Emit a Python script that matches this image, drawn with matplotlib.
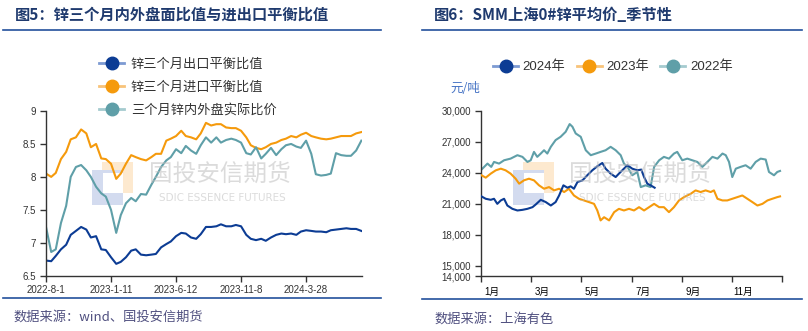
import matplotlib
matplotlib.use('Agg')
import matplotlib.pyplot as plt
from matplotlib.lines import Line2D
from matplotlib.patches import Rectangle

# ---------------- data: left chart (trading-day index) ----------------
left_day_idx = [0, 8, 15, 23, 31, 38, 46, 54, 62, 69, 77, 85, 92, 100, 108, 115,
                123, 131, 138, 146, 154, 162, 169, 177, 185, 192, 200, 208, 215, 223,
                231, 238, 246, 254, 262, 269, 277, 285, 292, 300, 308, 315, 323, 331,
                338, 346, 354, 362, 369, 377, 385, 392, 400, 408, 415, 423, 431, 438,
                446, 454, 462, 469, 477, 485]
left_tick_idx = [0, 100, 200, 300, 400]
left_tick_labels = ['2022-8-1', '2023-1-11', '2023-6-12', '2023-11-8', '2024-3-28']

export_ratio = [6.73, 6.72, 6.8, 6.9, 6.97, 7.12, 7.18, 7.24, 7.2, 7.08, 7.1, 6.9, 6.89,
                6.78, 6.68, 6.71, 6.78, 6.88, 6.9, 6.82, 6.81, 6.82, 6.83, 6.93, 6.98,
                7.02, 7.1, 7.15, 7.14, 7.08, 7.06, 7.13, 7.24, 7.24, 7.25, 7.28, 7.25,
                7.25, 7.27, 7.25, 7.12, 7.06, 7.04, 7.06, 7.03, 7.08, 7.12, 7.14, 7.13,
                7.14, 7.12, 7.17, 7.19, 7.18, 7.17, 7.17, 7.16, 7.19, 7.2, 7.21, 7.22,
                7.21, 7.21, 7.18]
import_ratio = [8.05, 8.0, 8.06, 8.27, 8.38, 8.57, 8.6, 8.72, 8.66, 8.45, 8.5, 8.28, 8.27,
                8.2, 7.97, 8.05, 8.2, 8.33, 8.3, 8.27, 8.25, 8.3, 8.35, 8.35, 8.55, 8.58,
                8.62, 8.7, 8.62, 8.6, 8.57, 8.66, 8.82, 8.78, 8.8, 8.8, 8.75, 8.74, 8.74,
                8.7, 8.6, 8.48, 8.44, 8.42, 8.45, 8.5, 8.52, 8.56, 8.58, 8.62, 8.6, 8.64,
                8.67, 8.62, 8.6, 8.58, 8.57, 8.58, 8.6, 8.62, 8.62, 8.62, 8.66, 8.68]
actual_ratio = [7.24, 6.86, 6.9, 7.3, 7.56, 8.0, 8.15, 8.18, 8.1, 8.0, 7.85, 7.75, 7.7,
                7.5, 7.15, 7.42, 7.6, 7.68, 7.63, 7.74, 7.73, 7.88, 8.0, 8.15, 8.25, 8.3,
                8.42, 8.36, 8.47, 8.4, 8.35, 8.48, 8.6, 8.52, 8.6, 8.52, 8.56, 8.58, 8.56,
                8.52, 8.36, 8.34, 8.45, 8.28, 8.35, 8.44, 8.33, 8.42, 8.48, 8.5, 8.46,
                8.44, 8.55, 8.35, 8.04, 8.02, 8.03, 8.05, 8.36, 8.33, 8.32, 8.32, 8.4, 8.55]
left_labels = ['锌三个月出口平衡比值', '锌三个月进口平衡比值', '三个月锌内外盘实际比价']

# ---------------- data: right chart (month position, 0 = Jan 1) ----------------
m2022 = [0.03, 0.27, 0.42, 0.53, 0.73, 0.93, 1.19, 1.46, 1.66, 1.86, 1.99, 2.12, 2.25,
         2.39, 2.52, 2.65, 2.79, 2.98, 3.18, 3.38, 3.54, 3.65, 3.78, 3.98, 4.18, 4.38,
         4.58, 4.77, 4.97, 5.17, 5.37, 5.57, 5.70, 5.84, 6.03, 6.23, 6.37, 6.56, 6.76,
         6.9, 7.1, 7.29, 7.49, 7.69, 7.82, 8.02, 8.22, 8.42, 8.62, 8.82, 9.02, 9.22,
         9.42, 9.62, 9.75, 9.88, 10.01, 10.15, 10.34, 10.54, 10.74, 10.94, 11.14,
         11.34, 11.47, 11.67, 11.80, 11.91]
p2022 = [24310, 24890, 24570, 25050, 24890, 25210, 25370, 25700, 25540, 25050, 25210,
         26020, 25540, 25860, 26180, 25860, 26510, 27160, 27480, 27960, 28710, 28450,
         27800, 27480, 26180, 25700, 25860, 26020, 26180, 26510, 26180, 25700, 24890,
         24570, 23760, 24080, 22620, 22790, 22620, 24570, 25210, 25540, 25370, 25860,
         26020, 25210, 25370, 25210, 25050, 24570, 25050, 25540, 25370, 25860, 25700,
         25050, 23590, 24400, 24570, 24730, 24400, 25050, 25370, 25280, 24080, 23760,
         24080, 24180]
m2023 = [0.03, 0.2, 0.4, 0.6, 0.8, 0.99, 1.19, 1.39, 1.53, 1.72, 1.92, 2.12, 2.32, 2.52,
         2.72, 2.92, 3.12, 3.32, 3.51, 3.71, 3.91, 4.11, 4.31, 4.51, 4.64, 4.77, 4.91,
         5.11, 5.31, 5.50, 5.70, 5.90, 6.10, 6.30, 6.50, 6.70, 6.90, 7.10, 7.29, 7.49,
         7.69, 7.89, 8.09, 8.36, 8.55, 8.75, 8.95, 9.15, 9.28, 9.42, 9.62, 9.81, 10.01,
         10.21, 10.41, 10.61, 10.81, 11.01, 11.21, 11.41, 11.60, 11.80, 11.91]
p2023 = [23760, 23530, 23920, 24240, 24400, 24240, 23920, 23430, 22950, 23270, 23430,
         23270, 22790, 22460, 22620, 22300, 22460, 22140, 22460, 21810, 21490, 21330,
         21170, 21000, 20360, 19400, 19710, 19400, 20200, 20520, 20360, 20520, 20360,
         20680, 20360, 20680, 21000, 20680, 20680, 20200, 20680, 21330, 21650, 21980,
         22300, 22140, 22300, 22140, 22300, 21490, 21330, 21330, 21490, 21650, 21810,
         21490, 21170, 20840, 21000, 21330, 21490, 21650, 21720]
m2024 = [0.03, 0.2, 0.4, 0.53, 0.66, 0.8, 0.93, 1.06, 1.26, 1.46, 1.66, 1.86, 2.06, 2.19,
         2.39, 2.59, 2.79, 2.98, 3.12, 3.29, 3.45, 3.58, 3.71, 3.85, 4.05, 4.24, 4.44,
         4.64, 4.84, 4.97, 5.17, 5.37, 5.50, 5.70, 5.84, 6.03, 6.23, 6.39, 6.50, 6.63,
         6.76, 6.92]
p2024 = [21720, 21490, 21390, 21490, 21000, 21330, 21490, 20840, 20520, 20360, 20420,
         20520, 20680, 20940, 21390, 21170, 20840, 21170, 21810, 22790, 22560, 22690,
         22460, 23110, 23270, 23760, 24240, 24630, 24950, 24400, 23920, 23590, 23920,
         24400, 24730, 24400, 24240, 24310, 23590, 22950, 22790, 22560]
right_yticks = [14000, 15000, 18000, 21000, 24000, 27000, 30000]
month_ticks = [0, 2, 4, 6, 8, 10, 12]
month_labels = ['1月', '3月', '5月', '7月', '9月', '11月']
year_labels = ['2024年', '2023年', '2022年']

# ---------------- style ----------------
W, H = 808, 331
NAVY, ORANGE, TEAL = '#0c3c94', '#f59a0c', '#5f9fa8'
NAVY_L, ORANGE_L, TEAL_L = '#7d9bd3', '#f8c37a', '#a5cbcf'
CJK = ['Noto Sans CJK SC', 'DejaVu Sans']
NUM = ['Liberation Sans', 'Noto Sans CJK SC']
AXC = '#333333'

fig = plt.figure(figsize=(W / 100, H / 100), dpi=100)
fig.patch.set_facecolor('white')


def fbox(x0, y0, x1, y1):
    return [x0 / W, 1 - y1 / H, (x1 - x0) / W, (y1 - y0) / H]


# background decoration layer (logos)
bg = fig.add_axes([0, 0, 1, 1], zorder=0)
bg.set_xlim(0, W)
bg.set_ylim(H, 0)
bg.axis('off')


def logo(ax, ox):
    ax.add_patch(Rectangle((ox, 162), 31, 31, color='#fde9cf', lw=0))
    ax.add_patch(Rectangle((ox - 10, 170), 31, 35, color='#d3dbef', lw=0))
    ax.add_patch(Rectangle((ox + 1, 173), 20, 20, color='white', lw=0))


logo(bg, 102)
logo(bg, 523)


def style_axes(ax):
    ax.set_facecolor('none')
    for s in ('top', 'right'):
        ax.spines[s].set_visible(False)
    for s in ('left', 'bottom'):
        ax.spines[s].set_color(AXC)
        ax.spines[s].set_linewidth(1.0)
    ax.tick_params(direction='out', length=4, width=1, color=AXC,
                   labelsize=7, labelcolor=AXC, pad=3)
    for lab in ax.get_xticklabels() + ax.get_yticklabels():
        lab.set_family(NUM)


# ---------------- left chart ----------------
axL = fig.add_axes(fbox(46, 111, 362, 275.7), zorder=1)
axL.plot(left_day_idx, export_ratio, color=NAVY, lw=1.5)
axL.plot(left_day_idx, import_ratio, color=ORANGE, lw=1.5)
axL.plot(left_day_idx, actual_ratio, color=TEAL, lw=1.5)
axL.set_xlim(0, 486)
axL.set_ylim(6.5, 9)
axL.set_yticks([6.5, 7, 7.5, 8, 8.5, 9])
axL.set_yticklabels(['6.5', '7', '7.5', '8', '8.5', '9'])
axL.set_xticks(left_tick_idx)
axL.set_xticklabels(left_tick_labels)
style_axes(axL)

hL = [Line2D([], [], color=c2, lw=2, marker='o', markersize=9,
             markerfacecolor=c, markeredgecolor=c)
      for c, c2 in ((NAVY, NAVY_L), (ORANGE, ORANGE_L), (TEAL, TEAL_L))]
legL = fig.legend(hL, left_labels, loc='upper left', bbox_to_anchor=(99 / W, 1 - 58 / H),
                  frameon=False, prop={'family': CJK, 'size': 9.5}, handlelength=1.9,
                  handletextpad=0.5, labelspacing=0.75, borderpad=0, borderaxespad=0)
for t in legL.get_texts():
    t.set_color('#333333')

# ---------------- right chart ----------------
axR = fig.add_axes(fbox(480.7, 110.7, 782.3, 276.3), zorder=1)
axR.plot(m2024, p2024, color=NAVY, lw=1.5, zorder=4)
axR.plot(m2023, p2023, color=ORANGE, lw=1.5, zorder=3)
axR.plot(m2022, p2022, color=TEAL, lw=1.5, zorder=2)
axR.set_xlim(0, 12)
axR.set_ylim(14000, 30000)
axR.set_yticks(right_yticks)
axR.set_yticklabels([f'{v:,}' for v in right_yticks])
axR.set_xticks(month_ticks)
axR.set_xticklabels([''] * len(month_ticks))
axR.set_xticks([m + 0.45 for m in month_ticks[:-1]], minor=True)
axR.set_xticklabels(month_labels, minor=True)
style_axes(axR)
axR.tick_params(axis='x', which='minor', length=0, pad=7.5, labelsize=7)
for lab in axR.get_xticklabels(minor=True):
    lab.set_family(NUM)

hR = [Line2D([], [], color=c2, lw=2, marker='o', markersize=9,
             markerfacecolor=c, markeredgecolor=c)
      for c, c2 in ((NAVY, NAVY_L), (ORANGE, ORANGE_L), (TEAL, TEAL_L))]
legR = fig.legend(hR, year_labels, loc='center left', bbox_to_anchor=(493 / W, 1 - 67 / H),
                  ncol=3, frameon=False, prop={'family': NUM, 'size': 9.5},
                  handlelength=1.9, handletextpad=0.35, columnspacing=0.85,
                  borderpad=0, borderaxespad=0)
for t in legR.get_texts():
    t.set_color('#333333')

# ---------------- foreground decorations ----------------
fg = fig.add_axes([0, 0, 1, 1], zorder=5)
fg.set_xlim(0, W)
fg.set_ylim(H, 0)
fg.axis('off')

TITLE_C = '#1f3a6e'
LINE_C = '#22509c'
fg.text(15, 14.5, '图5：锌三个月内外盘面比值与进出口平衡比值', family=CJK, size=11,
        weight='bold', color=TITLE_C, va='center', ha='left')
fg.text(434, 14.5, '图6：SMM上海0#锌平均价_季节性', family=CJK, size=11,
        weight='bold', color=TITLE_C, va='center', ha='left')
fg.plot([3, 381], [30, 30], color=LINE_C, lw=1.2)
fg.plot([422, 802], [29.5, 29.5], color=LINE_C, lw=1.2)
fg.plot([3, 381], [297.7, 297.7], color=LINE_C, lw=1.2)
fg.plot([422, 802], [299, 299], color=LINE_C, lw=1.2)
fg.text(13, 317.5, '数据来源：wind、国投安信期货', family=CJK, size=9.5,
        color='#505080', va='center', ha='left')
fg.text(434, 319, '数据来源：上海有色', family=CJK, size=9.5,
        color='#505080', va='center', ha='left')
fg.text(465.7, 88, '元/吨', family=CJK, size=9, color='#4472c4', va='center', ha='center')

for cx in (220, 640):
    fg.text(cx, 174, '国投安信期货', family=CJK, size=17, color='#bfbfbf', alpha=0.55,
            va='center', ha='center')
    fg.text(cx + 2, 198, 'SDIC ESSENCE FUTURES', family=['DejaVu Sans'], size=7.5,
            color='#bfbfbf', alpha=0.55, va='center', ha='center')

fig.savefig('out.png', dpi=100, facecolor='white')
